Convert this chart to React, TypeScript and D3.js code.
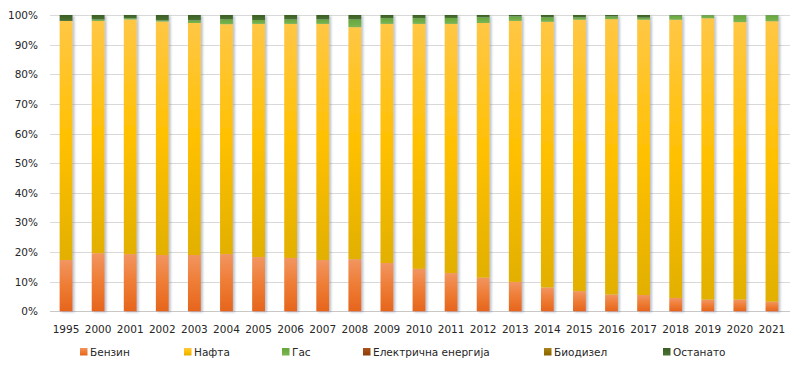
import React from 'react';
import * as d3 from 'd3';

const years = ['1995','2000','2001','2002','2003','2004','2005','2006','2007','2008','2009','2010','2011','2012','2013','2014','2015','2016','2017','2018','2019','2020','2021'];
const benzin = [17.3,19.6,19.3,19.0,19.0,19.3,18.3,18.0,17.3,17.6,16.3,14.3,12.9,11.3,9.9,8.0,6.8,5.6,5.5,4.5,3.9,3.9,3.2];
const nafta = [80.7,78.4,79.2,78.8,78.3,77.6,78.7,79.0,79.7,78.3,80.7,82.7,84.1,86.0,88.1,89.7,91.6,93.0,92.9,93.9,95.0,93.7,94.7];
const gas = [0,0.5,0.4,0.4,0.9,1.6,1.3,1.5,1.5,2.6,1.9,1.9,2.0,1.9,1.5,1.5,0.8,0.9,0.7,1.4,1.0,2.3,2.0];
const elektricna = [0,0,0,0,0,0,0,0,0,0,0,0,0,0,0,0,0,0,0,0,0,0,0];
const biodizel = [0,0,0,0,0,0,0,0,0,0,0,0,0,0,0,0,0,0,0,0,0,0,0];
const ostanato = [2.0,1.5,1.1,1.8,1.8,1.5,1.7,1.5,1.5,1.5,1.1,1.1,1.0,0.8,0.5,0.8,0.8,0.5,0.9,0.2,0.1,0.1,0.1];
const seriesNames = ['Бензин','Нафта','Гас','Електрична енергија','Биодизел','Останато'];
const yTicks = [0,0.1,0.2,0.3,0.4,0.5,0.6,0.7,0.8,0.9,1];

const keys = ['benzin','nafta','gas','elektricna','biodizel','ostanato'];
const gradStops: [string,string,string][] = [
  ['#F29560','#EE7C34','#E6651C'],
  ['#FFC745','#FFC000','#E2B000'],
  ['#64A83C','#70AD47','#7AB553'],
  ['#A85420','#9E480E','#8A3D0A'],
  ['#A88420','#997300','#866400'],
  ['#3A5E24','#43682B','#4A7230'],
];
const legendX = [80, 184, 282, 363, 544, 663];

export default function App() {
  const W = 804, H = 377;
  const table = years.map((y, i) => ({
    year: y, benzin: benzin[i], nafta: nafta[i], gas: gas[i],
    elektricna: elektricna[i], biodizel: biodizel[i], ostanato: ostanato[i],
  }));
  const stack = d3.stack<any>().keys(keys).offset(d3.stackOffsetExpand);
  const series = stack(table);
  const x = d3.scaleBand().domain(years).range([50, 788]).paddingInner(0.6).paddingOuter(0.3);
  const y = d3.scaleLinear().domain([0, 1]).range([311.3, 15]);
  const fmt = d3.format('.0%');
  const font = 'DejaVu Sans, sans-serif';
  const textColor = '#262626';
  return (
    <svg width={W} height={H} style={{ position: 'absolute', left: 0, top: 0, background: '#fff' }} fontFamily={font}>
      <defs>
        {gradStops.map((s, i) => (
          <linearGradient key={i} id={`g${i}`} x1="0" y1="0" x2="0" y2="1">
            <stop offset="0" stopColor={s[0]} />
            <stop offset="0.5" stopColor={s[1]} />
            <stop offset="1" stopColor={s[2]} />
          </linearGradient>
        ))}
        <filter id="sh" x="-50%" y="-5%" width="200%" height="110%">
          <feDropShadow dx="2" dy="1" stdDeviation="1" floodColor="#6b7a90" floodOpacity="0.45" />
        </filter>
      </defs>
      <rect width={W} height={H} fill="#fff" />
      {yTicks.map((t) => {
        const yy = Math.round(y(t)) + 0.5;
        return (
          <g key={t}>
            <line x1={50} x2={790} y1={yy} y2={yy} stroke={t === 0 ? '#C8C8C8' : '#D9D9D9'} strokeWidth={1} />
            <text x={38} y={yy} dy="0.35em" textAnchor="end" fontSize={10.5} fill={textColor}>{fmt(t)}</text>
          </g>
        );
      })}
      <g filter="url(#sh)">
        {series.map((s, si) => (
          <g key={s.key}>
            {s.map((d: any, i: number) => {
              const y0 = y(d[0]), y1 = y(d[1]);
              const h = y0 - y1;
              if (h <= 0) return null;
              return (
                <rect key={i} x={x(years[i])} y={y1} width={x.bandwidth()} height={h} fill={`url(#g${si})`} />
              );
            })}
          </g>
        ))}
      </g>
      {years.map((yr) => (
        <text key={yr} x={(x(yr) as number) + x.bandwidth() / 2} y={329} dy="0.35em" textAnchor="middle" fontSize={10.5} fill={textColor}>{yr}</text>
      ))}
      {seriesNames.map((n, i) => (
        <g key={n} transform={`translate(${legendX[i]},0)`}>
          <rect x={0} y={348} width={7.5} height={7.5} fill={`url(#g${i})`} />
          <text x={10} y={352.5} dy="0.35em" fontSize={10.5} fill={textColor}>{n}</text>
        </g>
      ))}
    </svg>
  );
}
